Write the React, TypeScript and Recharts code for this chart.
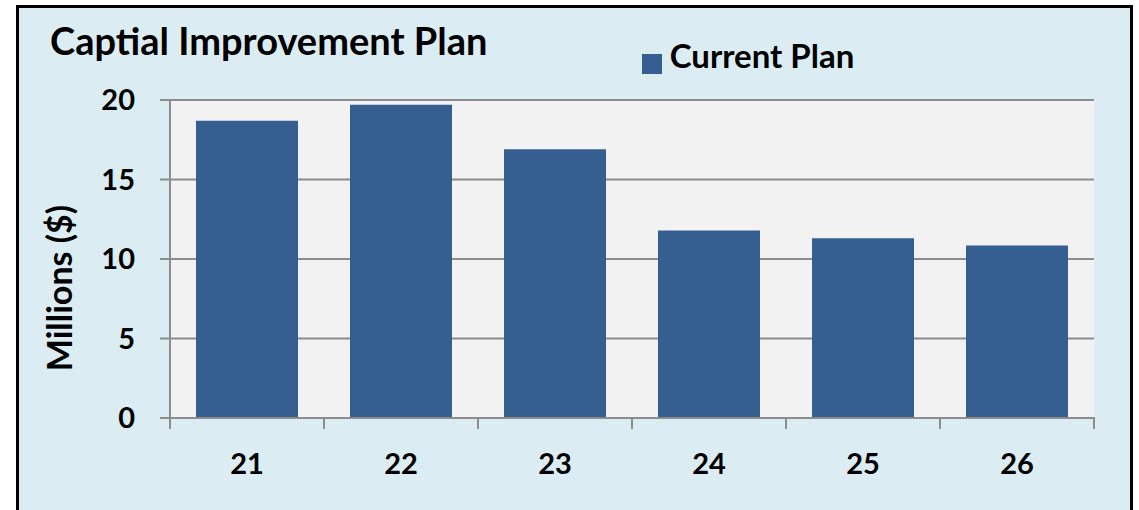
import { BarChart, Bar, XAxis, YAxis, CartesianGrid, Legend } from 'recharts';

const years = ['21', '22', '23', '24', '25', '26'];
const currentPlan = [18.7, 19.7, 16.9, 11.8, 11.3, 10.85];
const yTicks = [0, 5, 10, 15, 20];

const data = years.map((year, i) => ({ year, plan: currentPlan[i] }));

const W = 1139;
const H = 510;
const M = { top: 100, right: 45, left: 0, bottom: 0 };
const Y_AXIS_W = 170;
const X_AXIS_H = 92;
const halfBand = (W - M.left - M.right - Y_AXIS_W) / years.length / 2;

const FONT = 'Lato, "Open Sans", sans-serif';
const AXIS = '#8c8c8c';

function XTick(props: any) {
  const { x, y, payload, index } = props;
  const last = index === years.length - 1;
  return (
    <g>
      <line x1={x - halfBand} x2={x - halfBand} y1={y - 9} y2={y + 3} stroke={AXIS} strokeWidth={2} />
      {last && <line x1={x + halfBand} x2={x + halfBand} y1={y - 9} y2={y + 3} stroke={AXIS} strokeWidth={2} />}
      <text x={x} y={y + 48} textAnchor="middle" fontFamily={FONT} fontWeight={700} fontSize={29} fill="#000">
        {payload.value}
      </text>
    </g>
  );
}

function YLabel(props: any) {
  const { viewBox } = props;
  const cy = viewBox.y + viewBox.height / 2 + 29;
  return (
    <text
      x={58}
      y={cy}
      transform={`rotate(-90, 58, ${cy})`}
      textAnchor="middle"
      dominantBaseline="central"
      fontFamily={FONT}
      fontWeight={700}
      fontSize={34}
      fill="#000"
    >
      Millions ($)
    </text>
  );
}

export default function App() {
  return (
    <div style={{ position: 'absolute', left: 0, top: 0, width: W, height: H, overflow: 'hidden', fontFamily: FONT }}>
      <div
        style={{
          position: 'absolute',
          left: 16,
          top: 5,
          width: 1111,
          height: 520,
          border: '3px solid #000',
          background: '#DBEDF3',
        }}
      />
      <div
        style={{
          position: 'absolute',
          left: 50,
          top: 17,
          fontSize: 38,
          fontWeight: 700,
          color: '#000',
          whiteSpace: 'nowrap',
          lineHeight: '46px',
        }}
      >
        Captial Improvement Plan
      </div>
      <div style={{ position: 'absolute', left: 0, top: 0 }}>
        <BarChart width={W} height={H} data={data} margin={M} barCategoryGap={26}>
          <CartesianGrid vertical={false} stroke={AXIS} strokeWidth={2} fill="#F2F2F2" fillOpacity={1} />
          <XAxis
            dataKey="year"
            height={X_AXIS_H}
            axisLine={{ stroke: AXIS, strokeWidth: 2 }}
            tickLine={false}
            tick={<XTick />}
            interval={0}
          />
          <YAxis
            width={Y_AXIS_W}
            domain={[0, 20]}
            ticks={yTicks}
            interval={0}
            axisLine={{ stroke: AXIS, strokeWidth: 2 }}
            tickLine={{ stroke: AXIS, strokeWidth: 2 }}
            tickSize={10}
            tickMargin={25}
            tick={{ fill: '#000', fontSize: 29, fontWeight: 700, fontFamily: FONT }}
            label={<YLabel />}
          />
          <Legend
            layout="horizontal"
            verticalAlign="middle"
            align="center"
            iconType="square"
            iconSize={20}
            wrapperStyle={{ top: 35, left: 593, width: 320 }}
            formatter={(v: string) => (
              <span style={{ color: '#000', fontSize: 33, fontWeight: 700, fontFamily: FONT, marginLeft: 4 }}>{v}</span>
            )}
          />
          <Bar dataKey="plan" name="Current Plan" fill="#355F91" isAnimationActive={false} />
        </BarChart>
      </div>
    </div>
  );
}
